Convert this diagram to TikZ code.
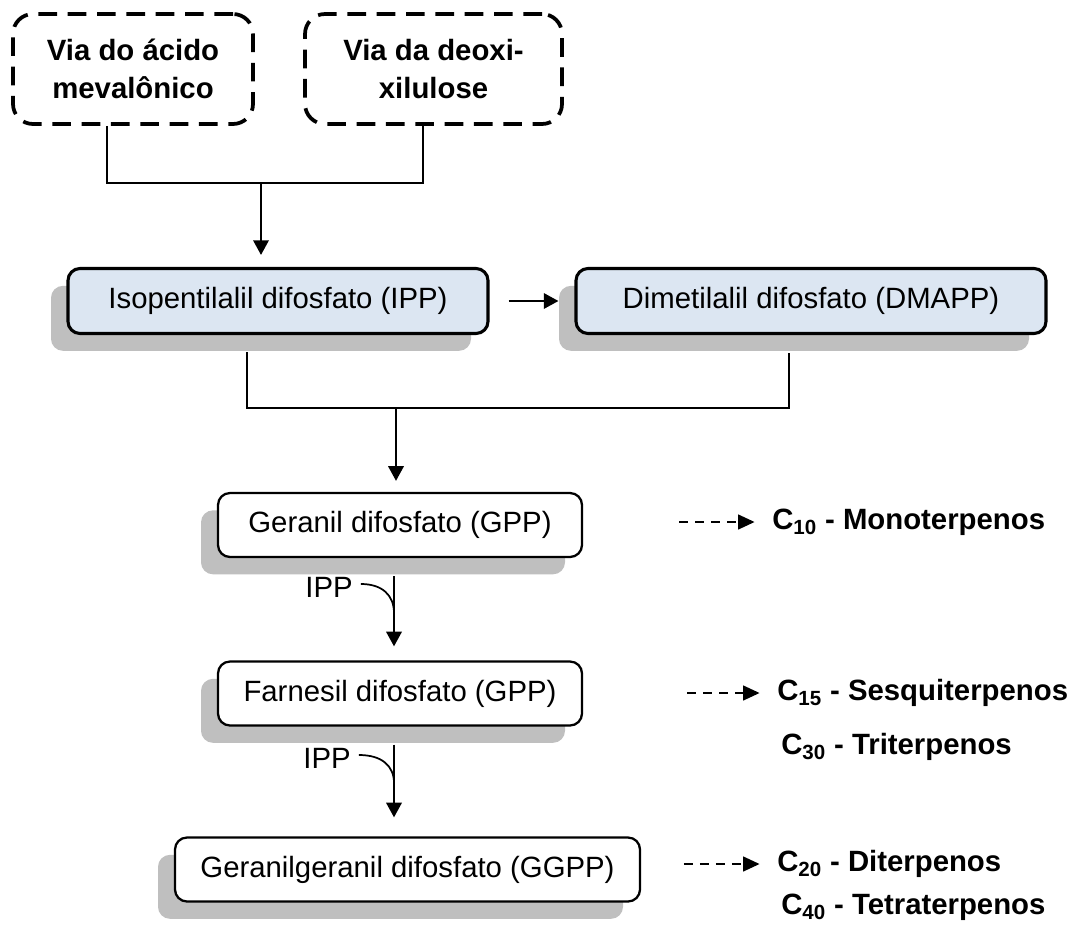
\documentclass[tikz,border=0pt]{standalone}
\usepackage{fontspec}
\setmainfont{Liberation Sans}
\usetikzlibrary{arrows.meta,shadows,calc}
\definecolor{boxblue}{HTML}{DCE6F2}
\definecolor{shadowgray}{HTML}{BFBFBF}

\begin{document}
\begin{tikzpicture}[x=0.75pt,y=-0.75pt,
  every node/.style={font=\fontsize{22}{28}\selectfont},
  pathway/.style={draw, line width=2.8pt, dash pattern=on 14pt off 8pt,
    rounded corners=15pt, align=center, minimum height=82.5pt, inner sep=0pt,
    font=\fontsize{22}{28}\selectfont\bfseries},
  shadowed/.style={drop shadow={shadow xshift=-12.75pt, shadow yshift=-13pt,
    fill=shadowgray, opacity=1, draw=none}},
  precursor/.style={draw, line width=2.3pt, fill=boxblue, rounded corners=9pt,
    minimum height=48.75pt, inner sep=0pt, shadowed},
  product/.style={draw, line width=1.7pt, fill=white, rounded corners=9pt,
    minimum height=48pt, inner sep=0pt, shadowed},
  cofactor/.style={inner sep=0pt},
  terp/.style={anchor=west, inner sep=0pt, font=\fontsize{22}{28}\selectfont\bfseries},
  link/.style={line width=1.4pt},
  thinlink/.style={line width=1pt},
  arrow/.style={line width=1.8pt, -{Triangle[length=11pt,width=11.5pt]}},
  joinline/.style={line width=1.3pt},
  dasharrow/.style={line width=2pt, dash pattern=on 7pt off 5pt,
    -{Triangle[length=12.5pt,width=11pt]}}
]
\useasboundingbox (0,0) rectangle (1071,935);

% the two biosynthetic routes
\node[pathway, minimum width=180pt] (mva) at (133,69) {Via do ácido\\mevalônico};
\node[pathway, minimum width=192.75pt] (dxp) at (433.5,69) {Via da deoxi-\\xilulose};

\coordinate (xa) at (107,0);
\coordinate (xb) at (423,0);
\coordinate (top) at (261,183);
\draw[link] (mva.south -| xa) |- (top) -| (dxp.south -| xb);

% C5 units
\node[precursor, minimum width=315pt] (ipp) at (278,301) {Isopentilalil difosfato (IPP)};
\node[precursor, minimum width=352.5pt] (dmapp) at (811,301) {Dimetilalil difosfato (DMAPP)};
\draw[arrow, shorten >=9pt] (top) -- (top |- ipp.north);
\draw[arrow, shorten <=14.25pt, shorten >=12pt] (ipp.east) -- (dmapp.west);

\coordinate (xc) at (247,0);
\coordinate (xd) at (789,0);
\coordinate (mid) at (396,408);
\draw[thinlink] (ipp.south -| xc) ++(0,17) |- (mid);
\draw[thinlink] (dmapp.south -| xd) ++(0,18) |- (mid);

% prenyl diphosphate chain
\node[product, minimum width=273pt] (gpp) at (400,525) {Geranil difosfato (GPP)};
\draw[arrow, shorten >=8.25pt] (mid) -- (mid |- gpp.north);

\coordinate (xv) at (394,0);
\node[product, minimum width=273pt] (fpp) at (400,693.5) {Farnesil difosfato (GPP)};
\draw[arrow, shorten >=10.5pt] (gpp.south -| xv) ++(0,18) -- (fpp.north -| xv);

\node[cofactor] (ippa) at (329,587) {IPP};
\coordinate (ja) at (394,613);
\draw[joinline] ($(ippa.east)+(8,-3)$) .. controls (382,584) and (394,595) .. (ja);

\node[product, minimum width=348.75pt] (ggpp) at (407.5,869.5) {Geranilgeranil difosfato (GGPP)};
\draw[arrow, shorten >=14.25pt] (fpp.south -| xv) ++(0,18) -- (ggpp.north -| xv);

\node[cofactor] (ippb) at (327,758) {IPP};
\coordinate (jb) at (394,783);
\draw[joinline] ($(ippb.east)+(8,-3)$) .. controls (382,755) and (394,766) .. (jb);

% terpene classes
\node[terp] (c10) at (772,522) {C\textsubscript{10} - Monoterpenos};
\node[terp] (c15) at (777,693) {C\textsubscript{15} - Sesquiterpenos};
\node[terp] (c30) at (781,747) {C\textsubscript{30} - Triterpenos};
\node[terp] (c20) at (777,864) {C\textsubscript{20} - Diterpenos};
\node[terp] (c40) at (781,907) {C\textsubscript{40} - Tetraterpenos};

\draw[dasharrow, shorten <=72pt, shorten >=13pt] (gpp.east |- c10.west) -- (c10.west);
\draw[dasharrow, shorten <=78pt, shorten >=13pt] (fpp.east |- c15.west) -- (c15.west);
\draw[dasharrow, shorten <=32pt, shorten >=13pt] (ggpp.east |- c20.west) -- (c20.west);
\end{tikzpicture}
\end{document}
